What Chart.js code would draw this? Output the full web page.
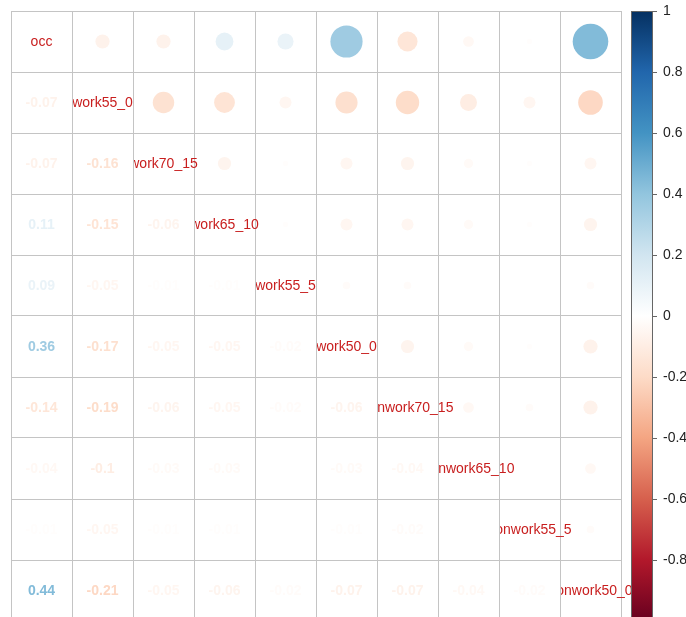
<!DOCTYPE html>
<html>
<head>
<meta charset="utf-8">
<script src="https://cdn.jsdelivr.net/npm/chart.js@4.4.0/dist/chart.umd.min.js"></script>
<style>
  html, body { margin: 0; padding: 0; background: #ffffff; overflow: hidden; }
  canvas { display: block; }
</style>
</head>
<body>
<canvas id="c" width="686" height="617"></canvas>
<script>
// ---- data ----
const variables = ["occ", "work55_0", "work70_15", "work65_10", "work55_5", "work50_0",
                   "nonwork70_15", "nonwork65_10", "nonwork55_5", "nonwork50_0"];
// lower-triangle correlations, row by row (row i has i values: columns 0..i-1)
const row_work55_0     = [-0.07];
const row_work70_15    = [-0.07, -0.16];
const row_work65_10    = [0.11, -0.15, -0.06];
const row_work55_5     = [0.09, -0.05, -0.01, -0.01];
const row_work50_0     = [0.36, -0.17, -0.05, -0.05, -0.02];
const row_nonwork70_15 = [-0.14, -0.19, -0.06, -0.05, -0.02, -0.06];
const row_nonwork65_10 = [-0.04, -0.1, -0.03, -0.03, 0, -0.03, -0.04];
const row_nonwork55_5  = [-0.01, -0.05, -0.01, -0.01, 0, -0.01, -0.02, 0];
const row_nonwork50_0  = [0.44, -0.21, -0.05, -0.06, -0.02, -0.07, -0.07, -0.04, -0.02];
const colorbarTicks = [-1, -0.8, -0.6, -0.4, -0.2, 0, 0.2, 0.4, 0.6, 0.8, 1];
const paletteColors = ["#67001F", "#B2182B", "#D6604D", "#F4A582", "#FDDBC7", "#FFFFFF",
                       "#D1E5F0", "#92C5DE", "#4393C3", "#2166AC", "#053061"];

// ---- build matrix ----
const lowerRows = [[], row_work55_0, row_work70_15, row_work65_10, row_work55_5, row_work50_0,
                   row_nonwork70_15, row_nonwork65_10, row_nonwork55_5, row_nonwork50_0];
const n = variables.length;
const M = [];
for (let i = 0; i < n; i++) { M.push(new Array(n).fill(0)); M[i][i] = 1; }
for (let i = 1; i < n; i++) for (let j = 0; j < i; j++) { M[i][j] = lowerRows[i][j]; M[j][i] = lowerRows[i][j]; }

function hexToRgb(h) { return [parseInt(h.slice(1,3),16), parseInt(h.slice(3,5),16), parseInt(h.slice(5,7),16)]; }
const palRgb = paletteColors.map(hexToRgb);
function colorFor(v) {
  const t = (Math.max(-1, Math.min(1, v)) + 1) / 2 * (palRgb.length - 1);
  const k = Math.min(Math.floor(t), palRgb.length - 2);
  const f = t - k;
  const a = palRgb[k], b = palRgb[k + 1];
  return "rgb(" + [0,1,2].map(q => Math.round(a[q] + (b[q] - a[q]) * f)).join(",") + ")";
}

// upper triangle circles
const circlePoints = [];
for (let i = 0; i < n; i++) for (let j = i + 1; j < n; j++) circlePoints.push({ x: j + 0.5, y: i + 0.5, v: M[i][j] });

const gridColor = "#c4c4c4";
// the plot is 610 px tall in full, the window cuts the last 5 px
const cellPx = 61, topPx = 11, canvasH = 617;
const visibleRows = (canvasH - topPx) / cellPx;           // portion of the 10 rows that is visible
const cbVisibleMin = 1 - 2 * visibleRows / n;             // colour-bar value at the bottom edge

function radiusFor(c) {
  const xs = c.chart.scales.x;
  const cell = xs.getPixelForValue(1) - xs.getPixelForValue(0);
  return c.raw ? Math.sqrt(Math.abs(c.raw.v)) * 0.44 * cell : 0;
}

const overlay = {
  id: "overlay",
  afterDatasetsDraw(chart) {
    const ctx = chart.ctx, xs = chart.scales.x, ys = chart.scales.y, cb = chart.scales.cb;
    ctx.save();
    ctx.textBaseline = "middle";
    // numbers in lower triangle
    ctx.font = "bold 14px 'Liberation Sans', Arial, sans-serif";
    ctx.textAlign = "center";
    for (let i = 1; i < n; i++) for (let j = 0; j < i; j++) {
      const v = M[i][j];
      ctx.fillStyle = colorFor(v);
      ctx.fillText(String(v), xs.getPixelForValue(j + 0.5), ys.getPixelForValue(i + 0.5) + 1);
    }
    // diagonal labels, clipped at the cell's left edge
    ctx.font = "14px 'Liberation Sans', Arial, sans-serif";
    ctx.fillStyle = "#c81e1e";
    for (let i = 0; i < n; i++) {
      const left = xs.getPixelForValue(i);
      ctx.save();
      ctx.beginPath();
      ctx.rect(left + 1, 0, chart.width, chart.height);
      ctx.clip();
      ctx.fillText(variables[i], xs.getPixelForValue(i + 0.5), ys.getPixelForValue(i + 0.5) + 1);
      ctx.restore();
    }
    // colour bar
    const bx0 = 631, bx1 = 653;
    const yTop = cb.getPixelForValue(1), yBot = cb.getPixelForValue(-1);
    const g = ctx.createLinearGradient(0, yBot, 0, yTop);
    paletteColors.forEach((c, k) => g.addColorStop(k / (paletteColors.length - 1), c));
    ctx.fillStyle = g;
    ctx.fillRect(bx0, yTop, bx1 - bx0, yBot - yTop);
    ctx.strokeStyle = "#666";
    ctx.lineWidth = 1;
    ctx.strokeRect(bx0 + 0.5, yTop + 0.5, bx1 - bx0 - 1, yBot - yTop);
    ctx.beginPath();
    colorbarTicks.forEach(t => {
      const y = Math.round(cb.getPixelForValue(t)) + 0.5;
      ctx.moveTo(bx1, y); ctx.lineTo(bx1 + 4, y);
    });
    ctx.stroke();
    ctx.restore();
  }
};

new Chart(document.getElementById("c"), {
  type: "scatter",
  data: {
    datasets: [{
      data: circlePoints,
      pointRadius: radiusFor,
      pointHoverRadius: radiusFor,
      pointBackgroundColor: (c) => c.raw ? colorFor(c.raw.v) : "#fff",
      pointBorderWidth: 0,
      pointBorderColor: "rgba(0,0,0,0)"
    }]
  },
  options: {
    responsive: false,
    animation: false,
    devicePixelRatio: 1,
    layout: { autoPadding: false, padding: { left: 11, top: topPx, right: 0, bottom: 0 } },
    plugins: { legend: { display: false }, tooltip: { enabled: false } },
    scales: {
      x: {
        type: "linear", min: 0, max: n,
        ticks: { display: false, stepSize: 1 },
        grid: { color: gridColor, lineWidth: 1, drawTicks: false },
        border: { display: true, color: gridColor },
        afterFit: (s) => { s.height = 0; s.paddingLeft = 0; s.paddingRight = 0; }
      },
      y: {
        type: "linear", min: 0, max: visibleRows, reverse: true,
        afterBuildTicks: (s) => { s.ticks = Array.from({ length: n }, (_, k) => ({ value: k })); },
        ticks: { display: false },
        grid: { color: gridColor, lineWidth: 1, drawTicks: false },
        border: { display: true, color: gridColor },
        afterFit: (s) => { s.width = 0; s.paddingTop = 0; s.paddingBottom = 0; }
      },
      cb: {
        type: "linear", position: "right", min: cbVisibleMin, max: 1,
        afterBuildTicks: (s) => { s.ticks = colorbarTicks.filter(v => v >= s.min).map(v => ({ value: v })); },
        ticks: {
          padding: 2,
          color: "#222",
          font: { size: 14, family: "'Liberation Sans', Arial, sans-serif" },
          callback: (v) => String(Math.round(v * 10) / 10)
        },
        grid: { display: false, drawTicks: true, tickLength: 40 },
        border: { display: false },
        afterFit: (s) => { s.width = 65; s.paddingTop = 0; s.paddingBottom = 0; }
      }
    }
  },
  plugins: [overlay]
});
</script>
</body>
</html>
